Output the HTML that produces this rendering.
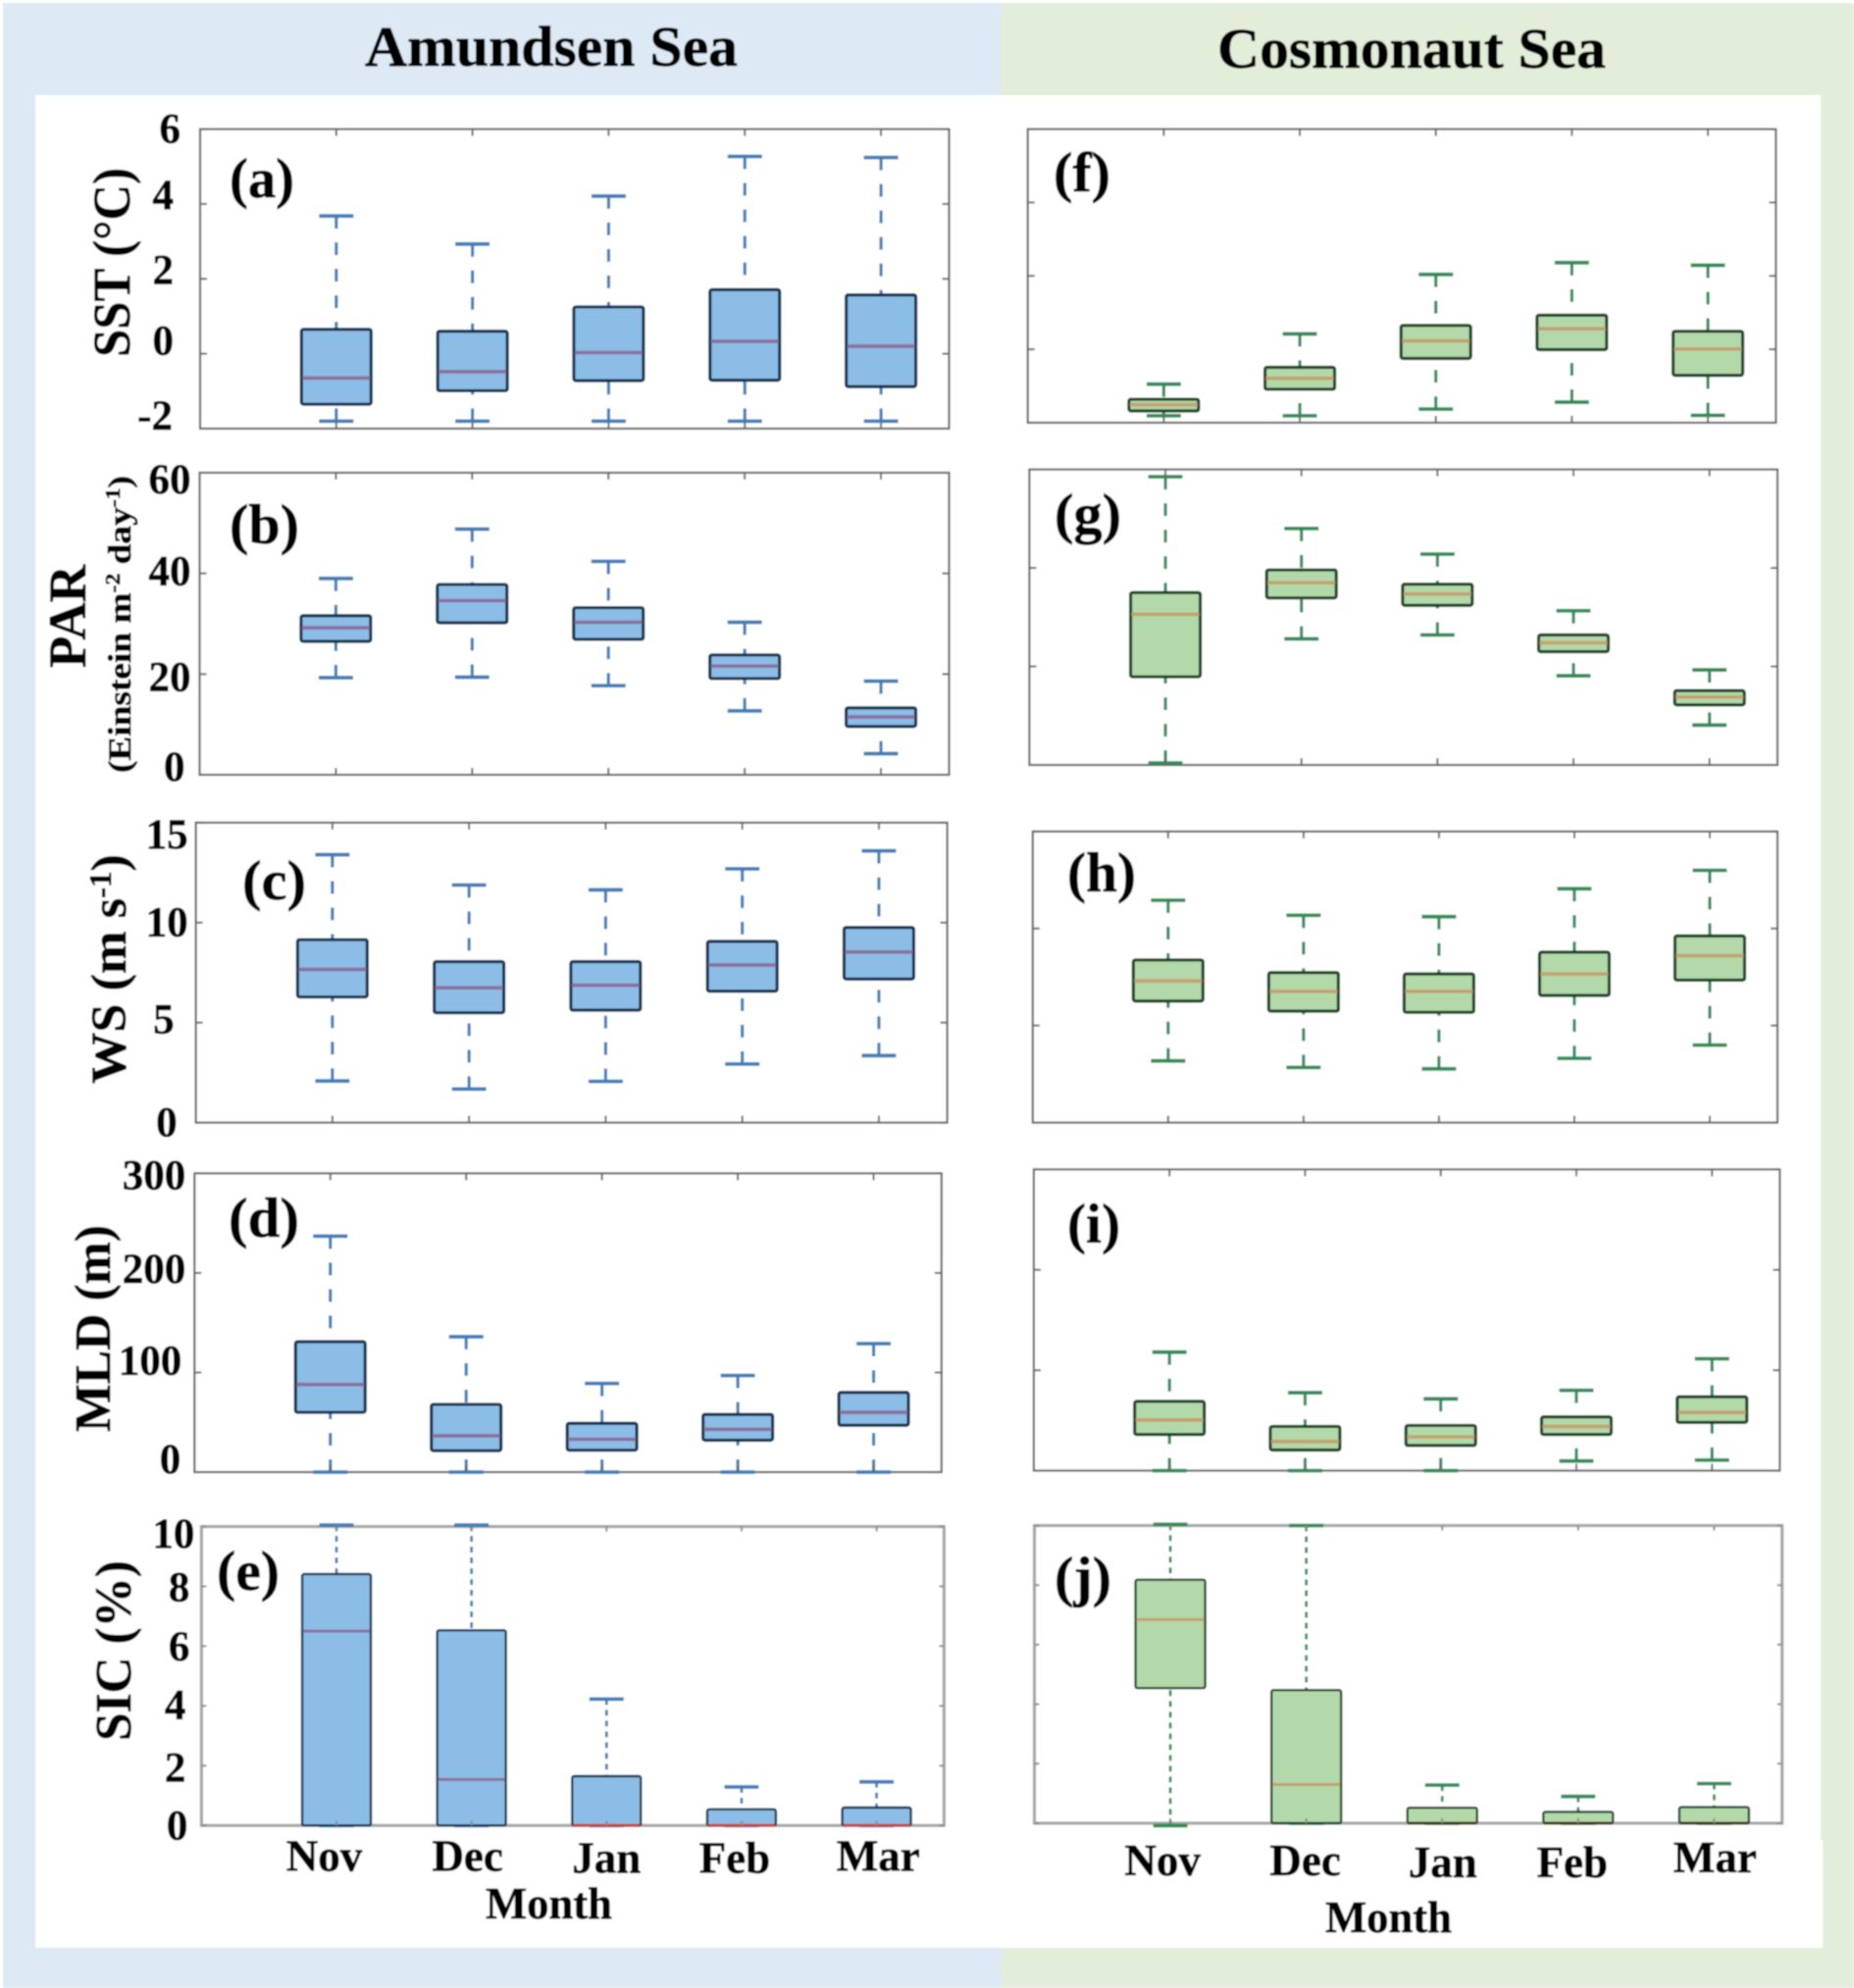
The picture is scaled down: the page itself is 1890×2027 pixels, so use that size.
<!DOCTYPE html>
<html lang="en">
<head>
<meta charset="utf-8">
<title>Amundsen Sea and Cosmonaut Sea monthly boxplots</title>
<style>
html,body{margin:0;padding:0;background:#fff;}
svg{display:block;}
text{font-family:"Liberation Serif",serif;font-weight:bold;fill:#000;stroke:#000;stroke-width:0.7px;}
</style>
</head>
<body>
<svg id="figure" xmlns="http://www.w3.org/2000/svg" width="1890" height="2027" viewBox="0 0 1890 2027">
  <defs><filter id="soft" x="0" y="0" width="100%" height="100%"><feGaussianBlur stdDeviation="0.8"/></filter></defs>
  <g id="root" filter="url(#soft)">
    <rect x="0" y="0" width="1890" height="2027" fill="#ffffff"/>
    <rect x="3" y="3" width="1019" height="2024" fill="#dde9f5"/>
    <rect x="1021" y="3" width="869" height="2024" fill="#e2eed9"/>
    <rect x="36" y="97" width="1820" height="1889" fill="#ffffff"/>
    <rect x="1850" y="1876" width="8" height="110" fill="#ffffff"/>

    <text x="372" y="67" font-size="58" textLength="380" lengthAdjust="spacingAndGlyphs">Amundsen Sea</text>
    <text x="1241" y="69" font-size="58" textLength="396" lengthAdjust="spacingAndGlyphs">Cosmonaut Sea</text>

    <text transform="translate(132 364) rotate(-90)" font-size="54" textLength="193" lengthAdjust="spacingAndGlyphs">SST (°C)</text>
    <text transform="translate(87 681) rotate(-90)" font-size="54" textLength="105" lengthAdjust="spacingAndGlyphs">PAR</text>
    <text transform="translate(133 788) rotate(-90)" font-size="33" textLength="303" lengthAdjust="spacingAndGlyphs">(Einstein m<tspan dy="-11" font-size="21">-2</tspan><tspan dy="11"> day</tspan><tspan dy="-11" font-size="21">-1</tspan><tspan dy="11">)</tspan></text>
    <text transform="translate(128 1105) rotate(-90)" font-size="51" textLength="234" lengthAdjust="spacingAndGlyphs">WS (m s<tspan dy="-15" font-size="32">-1</tspan><tspan dy="15">)</tspan></text>
    <text transform="translate(112 1460) rotate(-90)" font-size="52" textLength="211" lengthAdjust="spacingAndGlyphs">MLD (m)</text>
    <text transform="translate(133 1775) rotate(-90)" font-size="52" textLength="184" lengthAdjust="spacingAndGlyphs">SIC (%)</text>

    <text x="234" y="201" font-size="57" textLength="66" lengthAdjust="spacingAndGlyphs">(a)</text>
    <text x="234" y="554" font-size="57" textLength="71" lengthAdjust="spacingAndGlyphs">(b)</text>
    <text x="247" y="917" font-size="57" textLength="65" lengthAdjust="spacingAndGlyphs">(c)</text>
    <text x="233" y="1261" font-size="57" textLength="72" lengthAdjust="spacingAndGlyphs">(d)</text>
    <text x="221" y="1621" font-size="57" textLength="64" lengthAdjust="spacingAndGlyphs">(e)</text>
    <text x="1074" y="195" font-size="57" textLength="58" lengthAdjust="spacingAndGlyphs">(f)</text>
    <text x="1075" y="543" font-size="57" textLength="68" lengthAdjust="spacingAndGlyphs">(g)</text>
    <text x="1088" y="909" font-size="57" textLength="70" lengthAdjust="spacingAndGlyphs">(h)</text>
    <text x="1088" y="1267" font-size="57" textLength="54" lengthAdjust="spacingAndGlyphs">(i)</text>
    <text x="1075" y="1627" font-size="57" textLength="58" lengthAdjust="spacingAndGlyphs">(j)</text>

    <text x="495" y="1956" font-size="46" textLength="129" lengthAdjust="spacingAndGlyphs">Month</text>
    <text x="1351" y="1970" font-size="46" textLength="129" lengthAdjust="spacingAndGlyphs">Month</text>
  </g>
</svg>
<script>
// ---------- categories and tick labels ----------
const months = ['Nov', 'Dec', 'Jan', 'Feb', 'Mar'];
const sstTicks = [-2, 0, 2, 4, 6];
const parTicks = [0, 20, 40, 60];
const wsTicks = [0, 5, 10, 15];
const mldTicks = [0, 100, 200, 300];
const sicTicks = [0, 2, 4, 6, 8, 10];

// ---------- Amundsen Sea values ----------
const sstAmundsenHigh = [3.68, 2.93, 4.21, 5.27, 5.24];
const sstAmundsenQ3 = [0.65, 0.60, 1.25, 1.71, 1.57];
const sstAmundsenMedian = [-0.65, -0.48, 0.03, 0.33, 0.20];
const sstAmundsenQ1 = [-1.35, -0.99, -0.72, -0.71, -0.88];
const sstAmundsenLow = [-1.8, -1.8, -1.8, -1.8, -1.8];

const parAmundsenHigh = [39, 48.8, 42.4, 30.3, 18.6];
const parAmundsenQ3 = [31.6, 37.8, 33.2, 23.8, 13.3];
const parAmundsenMedian = [29.2, 34.6, 30.3, 21.6, 11.5];
const parAmundsenQ1 = [26.5, 30.2, 26.9, 19.1, 9.6];
const parAmundsenLow = [19.3, 19.4, 17.7, 12.7, 4.2];

const wsAmundsenHigh = [13.4, 11.88, 11.64, 12.69, 13.59];
const wsAmundsenQ3 = [9.15, 8.05, 8.05, 9.06, 9.76];
const wsAmundsenMedian = [7.66, 6.74, 6.87, 7.88, 8.53];
const wsAmundsenQ1 = [6.28, 5.49, 5.62, 6.57, 7.18];
const wsAmundsenLow = [2.08, 1.68, 2.06, 2.93, 3.35];

const mldAmundsenHigh = [237, 136, 89, 97, 129];
const mldAmundsenQ3 = [131, 68, 49, 58, 80];
const mldAmundsenMedian = [88, 36.5, 33, 43, 60];
const mldAmundsenQ1 = [60, 21.5, 22, 32, 47];
const mldAmundsenLow = [0, 0, 0, 0, 0];

const sicAmundsenHigh = [10.05, 10.05, 4.23, 1.29, 1.46];
const sicAmundsenQ3 = [8.41, 6.53, 1.65, 0.54, 0.60];
const sicAmundsenMedian = [6.5, 1.54, 0, 0, 0];
const sicAmundsenQ1 = [0, 0, 0, 0, 0];
const sicAmundsenLow = [0, 0, 0, 0, 0];

// ---------- Cosmonaut Sea values ----------
const sstCosmonautHigh = [-0.95, 0.42, 2.04, 2.36, 2.29];
const sstCosmonautQ3 = [-1.36, -0.49, 0.65, 0.93, 0.49];
const sstCosmonautMedian = [-1.51, -0.79, 0.23, 0.56, 0.01];
const sstCosmonautQ1 = [-1.68, -1.09, -0.25, -0.01, -0.71];
const sstCosmonautLow = [-1.81, -1.81, -1.63, -1.44, -1.80];

const parCosmonautHigh = [58.5, 48, 42.8, 31.3, 19.3];
const parCosmonautQ3 = [35, 39.6, 36.7, 26.4, 15.1];
const parCosmonautMedian = [30.6, 37, 34.7, 24.8, 13.8];
const parCosmonautQ1 = [17.9, 33.9, 32.4, 23, 12.2];
const parCosmonautLow = [0.4, 25.6, 26.4, 18.1, 8.1];

const wsCosmonautHigh = [11.46, 10.68, 10.61, 12.05, 13];
const wsCosmonautQ3 = [8.38, 7.73, 7.66, 8.78, 9.62];
const wsCosmonautMedian = [7.3, 6.76, 6.76, 7.66, 8.6];
const wsCosmonautQ1 = [6.26, 5.74, 5.68, 6.55, 7.34];
const wsCosmonautLow = [3.18, 2.84, 2.77, 3.31, 3.99];

const mldCosmonautHigh = [118, 77.6, 71.5, 80, 111.5];
const mldCosmonautQ3 = [69, 44, 45, 53.6, 73.6];
const mldCosmonautMedian = [50.5, 29, 33.6, 44, 58];
const mldCosmonautQ1 = [36, 20.5, 25, 36, 48];
const mldCosmonautLow = [0, 0, 0, 9.6, 10.5];

const sicCosmonautHigh = [10.04, 10, 1.28, 0.9, 1.33];
const sicCosmonautQ3 = [8.18, 4.47, 0.52, 0.38, 0.54];
const sicCosmonautMedian = [6.84, 1.3, 0, 0, 0];
const sicCosmonautQ1 = [4.54, 0, 0, 0, 0];
const sicCosmonautLow = [-0.08, 0, 0, 0, 0];

// ---------- drawing ----------
const SVG_NS = 'http://www.w3.org/2000/svg';
const root = document.getElementById('root');
const X_DOMAIN = [0, 5.5];

const blueTheme = {fill: '#8cbde6', edge: '#0f2f4e', median: '#8b6f9e', whisker: '#3f7db8', zero: '#c8403c'};
const greenTheme = {fill: '#b3d9ab', edge: '#173f22', median: '#c3a26e', whisker: '#2f8b57', zero: '#4a2a10'};

function make(tag, attrs, parent) {
  const node = document.createElementNS(SVG_NS, tag);
  Object.keys(attrs).forEach(function (k) { node.setAttribute(k, attrs[k]); });
  parent.appendChild(node);
  return node;
}

function linear(domain, range) {
  return function (v) {
    return range[0] + (v - domain[0]) / (domain[1] - domain[0]) * (range[1] - range[0]);
  };
}

function drawPanel(p) {
  const x = linear(X_DOMAIN, [p.left, p.right]);
  const y = linear([p.ticks[0], p.ticks[p.ticks.length - 1]], [p.bottom, p.top]);
  const theme = p.theme;
  const tickColor = p.fine ? '#8c8c8c' : '#666666';
  const tickLength = p.fine ? 5 : 7;
  const group = make('g', {}, root);
  
  

  const frame = make('rect', {x: p.left, y: p.top, width: p.right - p.left, height: p.bottom - p.top, fill: 'none', stroke: p.fine ? '#a6a6a6' : '#666666', 'stroke-width': p.fine ? 3.2 : 2.2}, group);
  
  

  months.forEach(function (m, i) {
    const cx = x(i + 1);
    const halfBox = p.boxHalf;
    const halfCap = 17.5;
    const dash = p.fine ? '6 5' : '13 14';
    const wWidth = p.fine ? 2.8 : 3.2;

    const upper = make('line', {x1: cx, x2: cx, y1: y(p.high[i]), y2: y(p.q3[i]), stroke: theme.whisker, 'stroke-width': wWidth, 'stroke-dasharray': dash}, group);
    
    

    const lower = make('line', {x1: cx, x2: cx, y1: y(p.low[i]), y2: y(p.q1[i]), stroke: theme.whisker, 'stroke-width': wWidth, 'stroke-dasharray': dash}, group);
    
    

    const capHigh = make('line', {x1: cx - halfCap, x2: cx + halfCap, y1: y(p.high[i]), y2: y(p.high[i]), stroke: theme.whisker, 'stroke-width': 3.8}, group);
    
    

    const capLow = make('line', {x1: cx - halfCap, x2: cx + halfCap, y1: y(p.low[i]), y2: y(p.low[i]), stroke: theme.whisker, 'stroke-width': 3.8}, group);
    
    

    const box = make('rect', {x: cx - halfBox, y: y(p.q3[i]), width: halfBox * 2, height: y(p.q1[i]) - y(p.q3[i]), rx: 2, fill: theme.fill, stroke: theme.edge, 'stroke-width': p.fine ? 2.4 : 3.2}, group);
    
    

    const median = make('line', {x1: cx - halfBox + 1, x2: cx + halfBox - 1, y1: y(p.median[i]), y2: y(p.median[i]), stroke: p.median[i] === 0 ? theme.zero : theme.median, 'stroke-width': p.fine ? 3 : 3.6}, group);
    
    
  });

  p.ticks.forEach(function (t, i) {
    const left = make('line', {x1: p.left, x2: p.left + tickLength, y1: y(t), y2: y(t), stroke: tickColor, 'stroke-width': 2}, group);
    
    
    const right = make('line', {x1: p.right - tickLength, x2: p.right, y1: y(t), y2: y(t), stroke: tickColor, 'stroke-width': 2}, group);
    
    
    if (p.labelRight) {
      const label = make('text', {x: p.left - p.labelRight[i], y: y(t) + p.labelDrop[i], 'font-size': 43, 'text-anchor': 'end'}, group);
      
      
      label.textContent = String(t);
    }
  });

  months.forEach(function (m, i) {
    const top = make('line', {x1: x(i + 1), x2: x(i + 1), y1: p.top, y2: p.top + tickLength, stroke: tickColor, 'stroke-width': 2}, group);
    
    
    const bottom = make('line', {x1: x(i + 1), x2: x(i + 1), y1: p.bottom - tickLength, y2: p.bottom, stroke: tickColor, 'stroke-width': 2}, group);
    
    
    if (p.monthShift) {
      const label = make('text', {x: x(i + 1) + p.monthShift[i], y: p.bottom + p.monthDrop[i], 'font-size': 45, 'text-anchor': 'middle'}, group);
      
      
      label.textContent = m;
    }
  });
}

drawPanel({name: 'sst-amundsen', theme: blueTheme, boxHalf: 35.5, left: 204, right: 967.5, top: 131.6, bottom: 437, ticks: sstTicks,
  high: sstAmundsenHigh, q3: sstAmundsenQ3, median: sstAmundsenMedian, q1: sstAmundsenQ1, low: sstAmundsenLow,
  labelRight: [28, 27, 27, 27, 20], labelDrop: [1, 1, 5, 5, 14]});
drawPanel({name: 'par-amundsen', theme: blueTheme, boxHalf: 35.5, left: 203.5, right: 967.5, top: 482, bottom: 790, ticks: parTicks,
  high: parAmundsenHigh, q3: parAmundsenQ3, median: parAmundsenMedian, q1: parAmundsenQ1, low: parAmundsenLow,
  labelRight: [15, 9, 9, 9], labelDrop: [6, 17, 12, 21]});
drawPanel({name: 'ws-amundsen', theme: blueTheme, boxHalf: 35.5, left: 199.6, right: 965.6, top: 838.8, bottom: 1144.6, ticks: wsTicks,
  high: wsAmundsenHigh, q3: wsAmundsenQ3, median: wsAmundsenMedian, q1: wsAmundsenQ1, low: wsAmundsenLow,
  labelRight: [19, 22, 8, 8], labelDrop: [14, 11, 14, 26]});
drawPanel({name: 'mld-amundsen', theme: blueTheme, boxHalf: 35.5, left: 198.3, right: 959.8, top: 1196.4, bottom: 1501, ticks: mldTicks,
  high: mldAmundsenHigh, q3: mldAmundsenQ3, median: mldAmundsenMedian, q1: mldAmundsenQ1, low: mldAmundsenLow,
  labelRight: [14, 13, 9, 9], labelDrop: [1, 2, 10, 16]});
drawPanel({name: 'sic-amundsen', theme: blueTheme, boxHalf: 35, fine: true, left: 205.4, right: 962.4, top: 1556.5, bottom: 1861.3, ticks: sicTicks,
  high: sicAmundsenHigh, q3: sicAmundsenQ3, median: sicAmundsenMedian, q1: sicAmundsenQ1, low: sicAmundsenLow,
  labelRight: [14, 16, 16, 12, 12, 7], labelDrop: [14, 16, 13, 14.5, 15, 21.5],
  monthShift: [-12.5, -4, 0, -7, 1.7], monthDrop: [46, 46, 48, 48, 46]});

drawPanel({name: 'sst-cosmonaut', theme: greenTheme, boxHalf: 35.5, left: 1047.7, right: 1810.4, top: 131.6, bottom: 431, ticks: sstTicks,
  high: sstCosmonautHigh, q3: sstCosmonautQ3, median: sstCosmonautMedian, q1: sstCosmonautQ1, low: sstCosmonautLow});
drawPanel({name: 'par-cosmonaut', theme: greenTheme, boxHalf: 35.5, left: 1049.4, right: 1812, top: 478.6, bottom: 780, ticks: parTicks,
  high: parCosmonautHigh, q3: parCosmonautQ3, median: parCosmonautMedian, q1: parCosmonautQ1, low: parCosmonautLow});
drawPanel({name: 'ws-cosmonaut', theme: greenTheme, boxHalf: 35.5, left: 1052.8, right: 1812, top: 847.8, bottom: 1144.6, ticks: wsTicks,
  high: wsCosmonautHigh, q3: wsCosmonautQ3, median: wsCosmonautMedian, q1: wsCosmonautQ1, low: wsCosmonautLow});
drawPanel({name: 'mld-cosmonaut', theme: greenTheme, boxHalf: 35.5, left: 1053.9, right: 1814.4, top: 1192.4, bottom: 1499.5, ticks: mldTicks,
  high: mldCosmonautHigh, q3: mldCosmonautQ3, median: mldCosmonautMedian, q1: mldCosmonautQ1, low: mldCosmonautLow});
drawPanel({name: 'sic-cosmonaut', theme: greenTheme, boxHalf: 35.5, fine: true, left: 1054.5, right: 1816.7, top: 1555.5, bottom: 1859, ticks: sicTicks,
  high: sicCosmonautHigh, q3: sicCosmonautQ3, median: sicCosmonautMedian, q1: sicCosmonautQ1, low: sicCosmonautLow,
  monthShift: [-8, -1, 0.5, -6, 1], monthDrop: [53, 53, 55, 55, 50]});
</script>
</body>
</html>
